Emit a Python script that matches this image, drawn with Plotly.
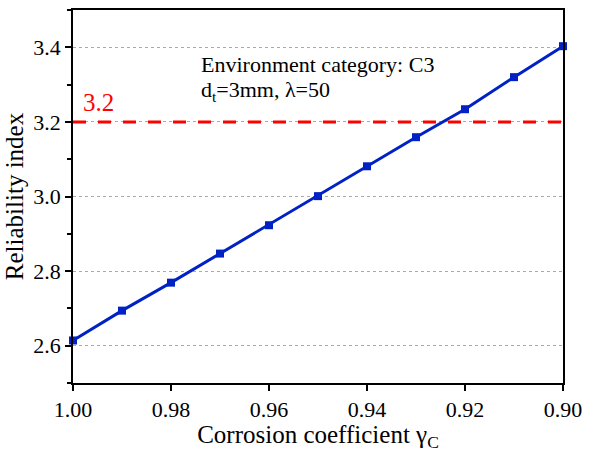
import plotly.graph_objects as go

gamma_c = [1.00, 0.99, 0.98, 0.97, 0.96, 0.95, 0.94, 0.93, 0.92, 0.91, 0.90]
reliability = [2.614, 2.694, 2.769, 2.847, 2.923, 3.001, 3.081, 3.159, 3.234, 3.320, 3.403]
target_beta = 3.2
x_ticks = [1.00, 0.98, 0.96, 0.94, 0.92, 0.90]
x_tick_labels = ["1.00", "0.98", "0.96", "0.94", "0.92", "0.90"]
y_ticks = [2.6, 2.8, 3.0, 3.2, 3.4]

FONT = "Liberation Serif"

fig = go.Figure()
fig.add_trace(go.Scatter(
    x=gamma_c, y=reliability, mode="lines+markers",
    line=dict(color="#0022C4", width=3),
    marker=dict(symbol="square", size=8, color="#0022C4"),
    showlegend=False, cliponaxis=False,
))
fig.add_shape(type="line", xref="paper", x0=0, x1=1, yref="y", y0=target_beta, y1=target_beta,
              line=dict(color="#FF0000", width=3, dash="13px,12px"))
fig.add_annotation(x=0.0, xref="paper", y=target_beta, yref="y", text=str(target_beta),
                   showarrow=False, xanchor="left", yanchor="bottom", xshift=8, yshift=4,
                   font=dict(family=FONT, size=25, color="#FF0000"))
fig.add_annotation(x=0.257, xref="paper", y=3.392, yref="y",
                   text="Environment category: C3",
                   showarrow=False, xanchor="left", yanchor="top", align="left",
                   font=dict(family=FONT, size=22, color="black"))
fig.add_annotation(x=0.257, xref="paper", y=3.325, yref="y",
                   text="d<sub>t</sub>=3mm, λ=50",
                   showarrow=False, xanchor="left", yanchor="top", align="left",
                   font=dict(family=FONT, size=22, color="black"))

fig.update_layout(
    width=590, height=452,
    margin=dict(l=73, r=22, t=8, b=69),
    paper_bgcolor="white", plot_bgcolor="white",
    font=dict(family=FONT, size=22, color="black"),
    xaxis=dict(
        range=[1.00, 0.90], tickvals=x_ticks, ticktext=x_tick_labels,
        showline=True, linecolor="black", linewidth=1.5, mirror=True,
        ticks="outside", ticklen=6, tickcolor="black", tickwidth=1.5,
        showgrid=False, zeroline=False,
        tickfont=dict(family=FONT, size=22),
        title=dict(text="Corrosion coefficient γ<sub>C</sub>", font=dict(family=FONT, size=25), standoff=4),
    ),
    yaxis=dict(
        range=[2.5, 3.5], tickvals=y_ticks, tickformat=".1f",
        showline=True, linecolor="black", linewidth=1.5, mirror=True,
        ticks="outside", ticklen=6, tickcolor="black", tickwidth=1.5,
        showgrid=True, gridcolor="#AAAAAA", griddash="dot", gridwidth=1,
        zeroline=False,
        tickfont=dict(family=FONT, size=22),
        minor=dict(tickvals=[2.5, 2.7, 2.9, 3.1, 3.3, 3.5], ticks="outside", ticklen=4,
                   tickcolor="black", tickwidth=1.5, showgrid=False),
        title=dict(text="Reliability index", font=dict(family=FONT, size=25), standoff=3),
    ),
)

fig.write_html("out.html")
